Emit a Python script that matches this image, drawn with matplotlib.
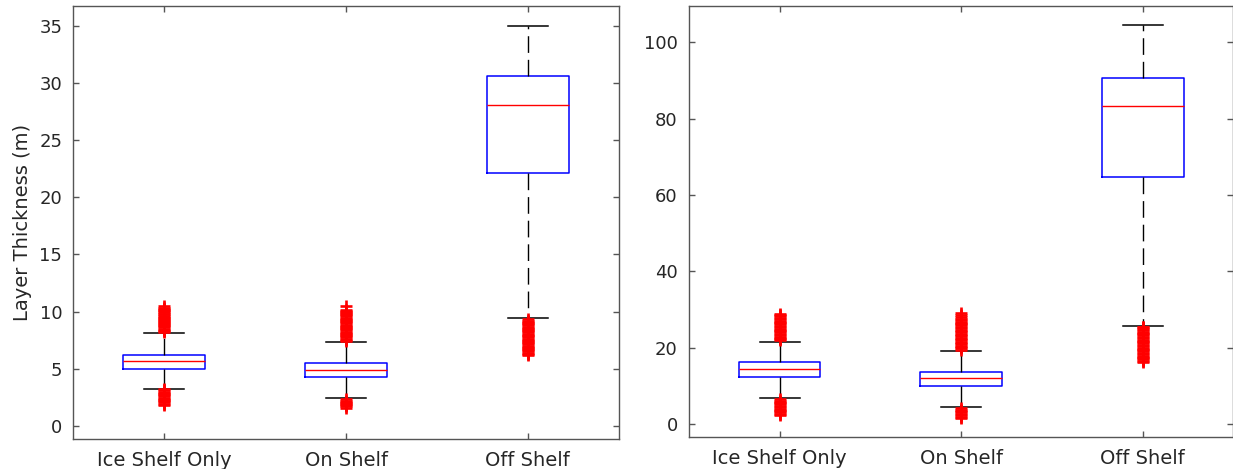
import matplotlib
matplotlib.use("Agg")
import matplotlib.pyplot as plt

plt.rcParams['font.family'] = ['DejaVu Sans']

categories = ["Ice Shelf Only", "On Shelf", "Off Shelf"]

# Left panel: layer thickness statistics (m)
left_q1 = [5.01, 4.26, 22.10]
left_med = [5.71, 4.92, 28.06]
left_q3 = [6.23, 5.48, 30.57]
left_whislo = [3.26, 2.42, 9.44]
left_whishi = [8.16, 7.34, 35.00]

left_out_ice = [1.84, 1.95, 2.06, 2.17, 2.26, 2.38, 2.47, 2.58, 2.69, 2.78,
                2.90, 2.99, 3.10, 3.20,
                8.24, 8.31, 8.42, 8.50, 8.61, 8.70, 8.79, 8.88, 8.97, 9.08,
                9.16, 9.27, 9.35, 9.46, 9.55, 9.64, 9.75, 9.83, 9.94, 10.05,
                10.13, 10.24, 10.33, 10.45]
left_out_on = [1.60, 1.71, 1.80, 1.92, 2.01, 2.12, 2.22, 2.34,
               7.42, 7.53, 7.62, 7.74, 7.83, 7.94, 8.03, 8.15, 8.24, 8.35,
               8.44, 8.56, 8.65, 8.76, 8.85, 8.97, 9.06, 9.17, 9.26, 9.38,
               9.47, 9.58, 9.67, 9.79, 9.88, 9.99, 10.08, 10.14, 10.52]
left_out_off = [6.20, 6.31, 6.40, 6.52, 6.61, 6.72, 6.82, 6.93, 7.02, 7.14,
                7.23, 7.34, 7.44, 7.55, 7.64, 7.76, 7.85, 7.96, 8.06, 8.17,
                8.26, 8.38, 8.47, 8.58, 8.68, 8.79, 8.88, 9.00, 9.09, 9.20,
                9.31]

# Right panel statistics
right_q1 = [12.23, 9.96, 64.8]
right_med = [14.33, 11.97, 83.2]
right_q3 = [16.24, 13.54, 90.7]
right_whislo = [6.73, 4.37, 25.75]
right_whishi = [21.57, 19.20, 104.6]

right_out_ice = [2.3, 2.6, 3.0, 3.3, 3.7, 4.0, 4.4, 4.7, 5.1, 5.4, 5.8, 6.1, 6.5,
                 21.9, 22.2, 22.6, 22.9, 23.3, 23.6, 24.0, 24.3, 24.7, 25.0,
                 25.4, 25.7, 26.1, 26.4, 26.8, 27.1, 27.5, 27.8, 28.2, 28.5,
                 28.9]
right_out_on = [1.6, 1.9, 2.3, 2.6, 3.0, 3.3, 3.7, 4.1,
                19.5, 19.8, 20.2, 20.5, 20.9, 21.2, 21.6, 21.9, 22.3, 22.6,
                23.0, 23.3, 23.7, 24.0, 24.4, 24.7, 25.1, 25.4, 25.8, 26.1,
                26.5, 26.8, 27.2, 27.5, 27.95, 28.5, 29.2]
right_out_off = [16.2, 16.5, 16.9, 17.2, 17.6, 17.9, 18.3, 18.6, 19.0, 19.3,
                 19.7, 20.0, 20.4, 20.7, 21.1, 21.4, 21.8, 22.1, 22.5, 22.8,
                 23.2, 23.5, 23.9, 24.2, 24.6, 24.9, 25.3, 25.5]

left_yticks = [0, 5, 10, 15, 20, 25, 30, 35]
right_yticks = [0, 20, 40, 60, 80, 100]

TEXT = '#262626'
SPINE = '#555555'


def make_stats(q1, med, q3, lo, hi, fliers):
    return [dict(q1=a, med=m, q3=b, whislo=l, whishi=h, fliers=f, label=c)
            for a, m, b, l, h, f, c in zip(q1, med, q3, lo, hi, fliers, categories)]


def draw(ax, stats, ylim, yticks):
    ax.bxp(stats, positions=[1, 2, 3], widths=0.45, capwidths=0.22,
           showfliers=True,
           boxprops=dict(color='#0000ff', linewidth=1.1),
           medianprops=dict(color='#ff0000', linewidth=1.0),
           whiskerprops=dict(color='black', linewidth=1.0, linestyle=(0, (12, 5))),
           capprops=dict(color='black', linewidth=1.1),
           flierprops=dict(marker='+', markersize=8, markeredgecolor='#ff0000',
                           markeredgewidth=1.9, linestyle='none'))
    ax.set_xlim(0.5, 3.5)
    ax.set_ylim(*ylim)
    ax.set_yticks(yticks)
    ax.set_xticks([1, 2, 3])
    ax.set_xticklabels(categories)
    ax.tick_params(direction='in', top=True, right=True, length=4.5, width=1,
                   color=SPINE, labelcolor=TEXT)
    ax.tick_params(axis='x', pad=8.5, labelsize=14)
    ax.tick_params(axis='y', pad=8, labelsize=13)
    for s in ax.spines.values():
        s.set_color(SPINE)
        s.set_linewidth(1.0)


fig = plt.figure(figsize=(12.33, 4.69), dpi=100)
ax1 = fig.add_axes([0.0595, 0.064, 0.4423, 0.9238])
ax2 = fig.add_axes([0.5586, 0.0676, 0.4418, 0.9202])

draw(ax1, make_stats(left_q1, left_med, left_q3, left_whislo, left_whishi,
                     [left_out_ice, left_out_on, left_out_off]),
     (-1.14, 36.74), left_yticks)
draw(ax2, make_stats(right_q1, right_med, right_q3, right_whislo, right_whishi,
                     [right_out_ice, right_out_on, right_out_off]),
     (-3.5, 109.6), right_yticks)

ax1.set_ylabel("Layer Thickness (m)", fontsize=14, color=TEXT, labelpad=5)

fig.savefig("out.png", dpi=100)
